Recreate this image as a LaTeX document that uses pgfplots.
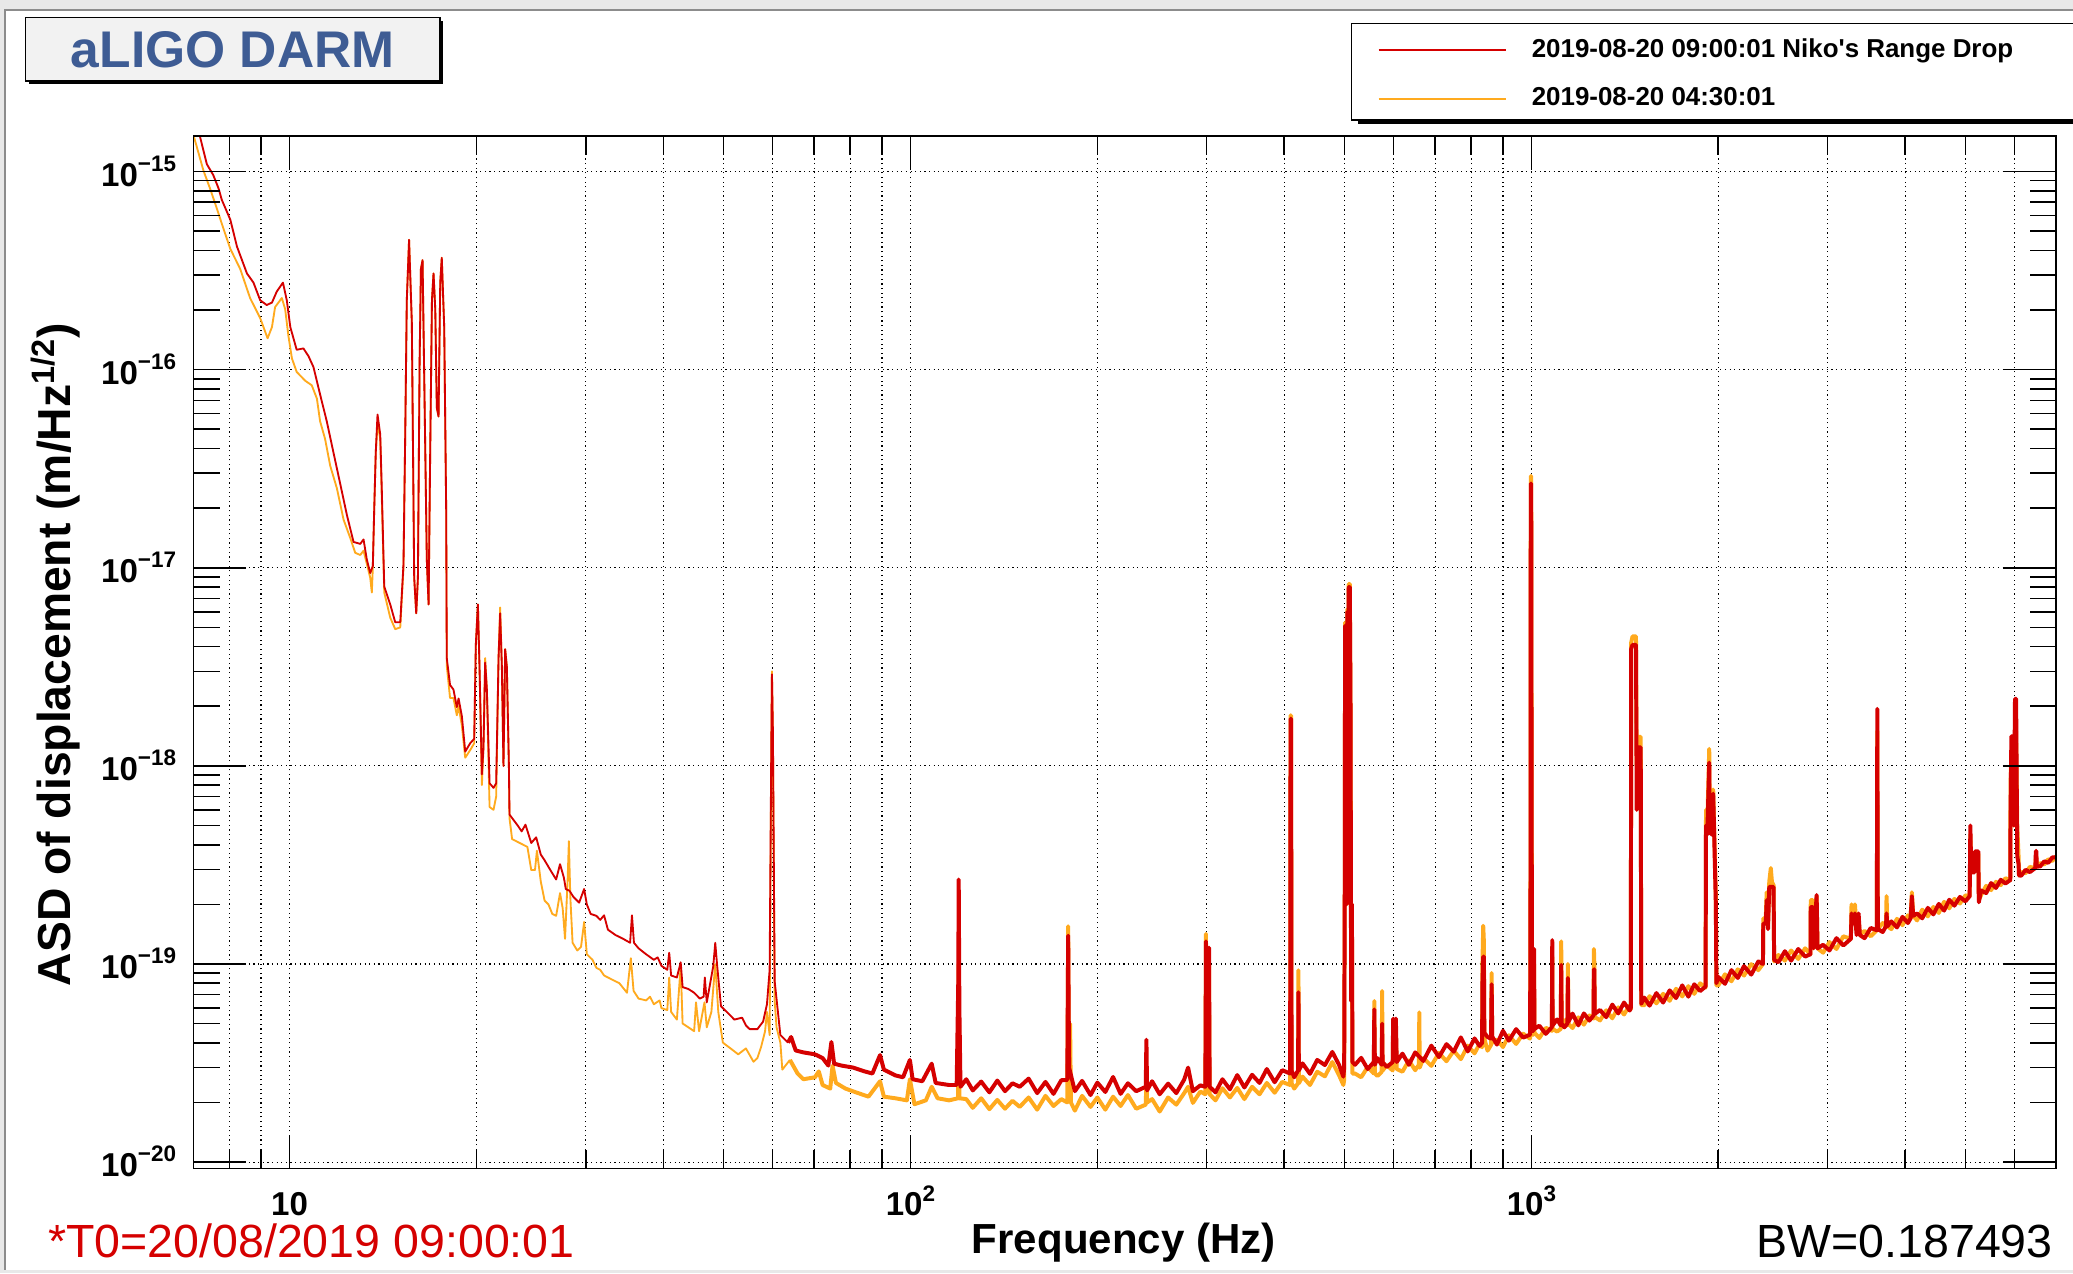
\documentclass[border=0pt]{standalone}
\usepackage{fontspec}
\setmainfont{Liberation Sans}
\usepackage{pgfplots}
\pgfplotsset{compat=1.18}
\definecolor{rootred}{RGB}{213,0,0}
\definecolor{rootorange}{RGB}{255,170,30}
\definecolor{titleblue}{RGB}{62,92,148}
\definecolor{canvasgrey}{RGB}{232,232,232}
\newcommand{\tl}[1]{10\raisebox{5.6pt}{\fontsize{8.5}{9}\selectfont #1}}
\pgfplotsset{
  every axis/.append style={
    at={(73.1pt,39.65pt)}, anchor=south west, scale only axis,
    width=704.5pt, height=390.4pt,
    xmin=7, xmax=7000, ymin=9.3e-21, ymax=1.51e-15,
    axis line style={line width=0.6pt, black},
    tick style={line width=0.6pt, black},
  }
}
\begin{document}
\begin{tikzpicture}[x=1pt,y=1pt]
% canvas
\fill[canvasgrey] (0,0) rectangle (784,481.5);
\fill[white] (2,1.2) rectangle (784,477.75);
\draw[black!45, line width=0.6pt] (2,1.2) -- (2,477.75) -- (784,477.75);
% title box
\fill[black] (10.8,449.6) rectangle (167.5,473.7);
\filldraw[fill=black!5, draw=black, line width=0.6pt] (9.6,450.85) rectangle (166.3,474.95);
\node[anchor=base, text=titleblue, inner sep=0pt, font=\fontsize{19.5}{22}\selectfont\bfseries] at (88,455.9) {aLIGO DARM};
% legend frame
\fill[black] (513.5,434.6) rectangle (790,471);
\filldraw[fill=white, draw=black, line width=0.5pt] (511,436.1) rectangle (788,472.7);

% main axis: data and grid
\begin{loglogaxis}[
  xtick={10,100,1000},
  minor xtick={8,9,20,30,40,50,60,70,80,90,200,300,400,500,600,700,800,900,2000,3000,4000,5000,6000},
  ytick={1e-20,1e-19,1e-18,1e-17,1e-16,1e-15},
  minor ytick={2e-20,3e-20,4e-20,5e-20,6e-20,7e-20,8e-20,9e-20,2e-19,3e-19,4e-19,5e-19,6e-19,7e-19,8e-19,9e-19,2e-18,3e-18,4e-18,5e-18,6e-18,7e-18,8e-18,9e-18,2e-17,3e-17,4e-17,5e-17,6e-17,7e-17,8e-17,9e-17,2e-16,3e-16,4e-16,5e-16,6e-16,7e-16,8e-16,9e-16},
  major tick length=0pt, minor tick length=0pt,
  xticklabels={}, yticklabels={},
  xmajorgrids=true, xminorgrids=true, ymajorgrids=true, yminorgrids=false,
  major grid style={black, line width=0.45pt, dash pattern=on 0.45pt off 1.3pt},
  minor grid style={black, line width=0.45pt, dash pattern=on 0.45pt off 1.3pt},
  reverse legend,
  legend style={at={(axis description cs:0.6358,1.0997)}, anchor=north west,
    draw=none, fill=none, inner sep=0pt, outer sep=0pt,
    font=\fontsize{9.8}{11}\selectfont\bfseries,
    row sep=6pt, column sep=7.5pt, cells={anchor=west}},
  legend image code/.code={\draw[#1, line width=0.8pt] (0pt,0pt) -- (48pt,0pt);},
]
% ---- 04:30:01 reference, low frequencies
\addplot[rootorange, line width=0.7pt, line join=round] coordinates {
(7.00,1.52e-15)(7.02,1.49e-15)(7.27,1.01e-15)(7.45,8.20e-16)(7.64,6.50e-16)(7.83,5.14e-16)(8.03,4.07e-16)(8.33,3.22e-16)(8.64,2.30e-16)(8.97,1.82e-16)(9.22,1.44e-16)(9.37,1.64e-16)(9.48,2.07e-16)(9.72,2.30e-16)(9.84,2.02e-16)(9.96,1.48e-16)(10.09,1.14e-16)(10.27,9.74e-17)(10.60,8.79e-17)(10.86,8.34e-17)(11.07,7.14e-17)(11.20,5.50e-17)(11.41,4.47e-17)(11.63,3.27e-17)(11.92,2.52e-17)(12.22,1.75e-17)(12.52,1.42e-17)(12.76,1.19e-17)(13.00,1.16e-17)(13.16,1.22e-17)(13.49,8.91e-18)(13.57,7.5e-18)(13.62,1.0e-17)(13.69,1.95e-17)(13.77,3.82e-17)(13.86,5.3e-17)(14.00,4.5e-17)(14.08,2.3e-17)(14.21,7.5e-18)(14.53,5.6e-18)(14.80,4.9e-18)(15.08,5.0e-18)(15.26,1.0e-17)(15.36,4.71e-17)(15.45,2.24e-16)(15.58,4.52e-16)(15.74,1.73e-16)(15.88,8.91e-18)(16.00,5.89e-18)(16.10,8.91e-18)(16.20,1.08e-16)(16.28,3.22e-16)(16.38,3.57e-16)(16.54,4.25e-17)(16.64,1.10e-17)(16.75,6.53e-18)(16.85,3.82e-17)(16.96,2.24e-16)(17.06,3.06e-16)(17.17,2.02e-16)(17.27,6.43e-17)(17.38,5.80e-17)(17.49,2.75e-16)(17.59,3.67e-16)(17.75,1.64e-16)(17.88,1.95e-17)(17.92,3.2e-18)(18.14,2.2e-18)(18.37,2.2e-18)(18.60,1.8e-18)(18.72,2.0e-18)(18.95,1.6e-18)(19.19,1.10e-18)(19.54,1.20e-18)(19.84,1.30e-18)(19.96,4.09e-18)(20.11,6.53e-18)(20.23,3.16e-18)(20.41,8.0e-19)(20.53,1.24e-18)(20.66,3.5e-18)(20.79,2.43e-18)(21.00,6.2e-19)(21.31,6.0e-19)(21.52,7.0e-19)(21.71,3.50e-18)(21.84,6.3e-18)(21.98,3.16e-18)(22.11,1.00e-18)(22.25,3.88e-18)(22.39,3.16e-18)(22.56,1.00e-18)(22.61,5.45e-19)(22.83,4.27e-19)(23.49,4.08e-19)(24.16,3.90e-19)(24.51,2.98e-19)(24.85,2.98e-19)(25.03,3.73e-19)(25.39,2.61e-19)(25.75,2.09e-19)(26.12,2.00e-19)(26.50,1.79e-19)(26.88,1.75e-19)(27.27,2.28e-19)(27.54,1.91e-19)(27.78,1.34e-19)(28.05,2.67e-19)(28.18,4.17e-19)(28.33,2.18e-19)(28.57,1.28e-19)(29.07,1.17e-19)(29.48,1.22e-19)(29.82,1.63e-19)(30.12,1.12e-19)(30.76,1.05e-19)(31.21,9.56e-20)(31.65,9.35e-20)(32.11,8.75e-20)(33.03,8.36e-20)(33.98,8.00e-20)(34.96,7.16e-20)(35.46,1.07e-19)(35.82,7.32e-20)(36.49,6.69e-20)(37.53,6.55e-20)(38.07,6.84e-20)(38.62,6.26e-20)(39.46,6.55e-20)(39.73,5.99e-20)(40.59,5.85e-20)(40.88,8.55e-20)(41.17,5.73e-20)(42.06,5.24e-20)(42.66,9.78e-20)(42.96,5.01e-20)(43.89,4.79e-20)(44.84,4.58e-20)(45.15,6.40e-20)(45.67,4.58e-20)(46.59,6.40e-20)(46.99,4.79e-20)(47.80,5.73e-20)(48.49,1.00e-19)(49.04,5.73e-20)(49.88,4.01e-20)(51.32,3.75e-20)(52.80,3.50e-20)(54.33,3.75e-20)(55.89,3.21e-20)(56.69,3.35e-20)(57.50,3.83e-20)(58.33,4.58e-20)(58.74,5.73e-20)(59.33,4.38e-20)(59.70,1.3e-18)(59.84,3.0e-18)(60.05,1.5e-18)(60.44,6.5e-20)(60.87,4.79e-20)(61.74,4.01e-20)(62.18,2.93e-20)(63.97,3.28e-20)
};
\addlegendentry{2019-08-20 04:30:01}
% ---- 04:30:01 reference, noisy high-frequency part
\addplot[rootorange, line width=1.5pt, line join=round, forget plot] coordinates {
(63.97,3.28e-20)(65.81,2.80e-20)(67.23,2.62e-20)(70.19,2.68e-20)(71.19,2.87e-20)(72.21,2.45e-20)(74.28,2.35e-20)(74.92,3.07e-20)(75.86,2.51e-20)(78.61,2.35e-20)(82.03,2.24e-20)(85.60,2.14e-20)(89.34,2.56e-20)(90.62,2.14e-20)(94.56,2.10e-20)(98.68,2.05e-20)(99.8,2.62e-20)(101.5,1.96e-20)(105.9,2.05e-20)(108.2,2.40e-20)(110.6,2.10e-20)(115.4,2.05e-20)(119.3,2.1e-20)(119.6,1.0e-19)(119.9,2.1e-20)(123,2.08e-20)(126,1.88e-20)(130,2.10e-20)(134,1.85e-20)(138,2.06e-20)(142,1.86e-20)(146,2.04e-20)(150,1.90e-20)(155,2.12e-20)(160,1.84e-20)(165,2.16e-20)(170,1.92e-20)(175,2.08e-20)(178.9,2.0e-20)(179.5,1.55e-19)(180.1,2.3e-20)(180.8,5.0e-20)(181.3,2.0e-20)(184,1.82e-20)(189,2.16e-20)(195,1.90e-20)(200,2.12e-20)(206,1.84e-20)(212,2.14e-20)(218,1.92e-20)(224,2.18e-20)(231,1.86e-20)(239.3,1.95e-20)(239.9,2.6e-20)(240.5,2.0e-20)(245,2.08e-20)(252,1.80e-20)(260,2.12e-20)(268,1.95e-20)(276,2.23e-20)(280,2.4e-20)(285,1.99e-20)(293,2.27e-20)(298.5,2.2e-20)(299.2,1.42e-19)(300.0,2.6e-20)(300.6,9.0e-20)(301.3,2.3e-20)(302.6,1.0e-19)(303.3,2.2e-20)(310,2.05e-20)(318,2.36e-20)(327,2.12e-20)(336,2.37e-20)(345,2.08e-20)(355,2.40e-20)(365,2.20e-20)(375,2.51e-20)(386,2.24e-20)(397,2.54e-20)(408.8,2.45e-20)(409.4,1.8e-18)(410.2,1.8e-18)(411.0,2.5e-20)(415,2.35e-20)(421.0,2.5e-20)(421.6,9.3e-20)(422.2,2.5e-20)(428,2.70e-20)(440,2.45e-20)(452,2.86e-20)(465,2.71e-20)(478,3.2e-20)(490,2.75e-20)(498,2.45e-20)(499.5,2.6e-20)(500.5,2.3e-19)(501.2,5.3e-18)(502.2,4.0e-19)(503.0,5.3e-18)(504.0,2.0e-19)(505.5,6.2e-18)(506.5,3.0e-19)(508.0,8.3e-18)(509.0,5.0e-19)(510.0,8.3e-18)(511.5,1.8e-18)(512.5,9e-20)(514.0,2.0e-19)(515.0,2.8e-20)(520,2.8e-20)(532,2.68e-20)(545,3.02e-20)(557.5,2.8e-20)(558.6,6.5e-20)(559.7,2.8e-20)(565,2.72e-20)(574,2.85e-20)(575,7.3e-20)(576,2.9e-20)(585,3.08e-20)(598,2.9e-20)(599,5.0e-20)(600.5,3.0e-20)(605,4.6e-20)(607,2.95e-20)(620,2.86e-20)(635,3.26e-20)(650,2.91e-20)(659,3.1e-20)(660,5.7e-20)(661,3.0e-20)(670,3.35e-20)(690,3.06e-20)(710,3.56e-20)(730,3.23e-20)(750,3.65e-20)(770,3.31e-20)(790,3.87e-20)(810,3.54e-20)(825,3.95e-20)(833,3.8e-20)(834,1.0e-19)(836.5,1.56e-19)(838.5,1.3e-19)(840,4.2e-20)(850,3.65e-20)(861,3.9e-20)(863,9.0e-20)(865,4.0e-20)(880,4.16e-20)(900,3.81e-20)(920,4.37e-20)(945,3.95e-20)(970,4.45e-20)(995,4.2e-20)(996.5,1.3e-19)(997.8,2.9e-17)(999.4,2.9e-17)(1000.8,1.2e-18)(1002,1.2e-19)(1004,4.4e-20)(1008.5,4.4e-20)(1010,1.0e-19)(1011.5,4.5e-20)(1030,4.23e-20)(1055,4.76e-20)(1079,4.6e-20)(1080.5,1.1e-19)(1082,4.7e-20)(1100,4.56e-20)(1115,4.7e-20)(1117,1.3e-19)(1119,4.8e-20)(1130,5.20e-20)(1143,4.9e-20)(1145,1.0e-19)(1147,5.0e-20)(1165,4.75e-20)(1190,5.38e-20)(1215,4.94e-20)(1240,5.50e-20)(1259,5.3e-20)(1261,1.19e-19)(1263,1.0e-19)(1265,5.4e-20)(1290,5.19e-20)(1320,5.84e-20)(1350,5.32e-20)(1380,6.04e-20)(1410,5.56e-20)(1440,6.19e-20)(1446,5.9e-20)(1448,4.2e-18)(1455,4.5e-18)(1474,4.5e-18)(1478,1.0e-18)(1482,1.4e-18)(1500,1.4e-18)(1503,6.2e-20)(1520,6.19e-20)(1550,6.88e-20)(1590,6.33e-20)(1630,7.07e-20)(1670,6.52e-20)(1710,7.50e-20)(1750,6.86e-20)(1790,7.73e-20)(1830,7.07e-20)(1870,7.99e-20)(1908,7.6e-20)(1911,6e-19)(1920,5e-19)(1934,1.22e-18)(1938,5.5e-19)(1950,4.8e-19)(1963,7.6e-19)(1970,4.8e-19)(1982,2.2e-19)(1986,7.8e-20)(2000,7.79e-20)(2050,8.87e-20)(2100,8.18e-20)(2150,9.40e-20)(2200,8.74e-20)(2260,9.98e-20)(2320,9.31e-20)(2360,1.0e-19)(2363,1.7e-19)(2385,1.7e-19)(2393,2.3e-19)(2405,1.6e-19)(2416,2.6e-19)(2430,3.05e-19)(2440,2.6e-19)(2455,2.5e-19)(2460,1.03e-19)(2500,1.11e-19)(2560,1.04e-19)(2620,1.17e-19)(2690,1.06e-19)(2760,1.20e-19)(2815,1.12e-19)(2818,2.1e-19)(2840,2.1e-19)(2848,1.2e-19)(2880,2.2e-19)(2890,1.2e-19)(2950,1.14e-19)(3020,1.29e-19)(3100,1.19e-19)(3180,1.38e-19)(3270,1.34e-19)(3278,2.0e-19)(3300,1.7e-19)(3320,2.0e-19)(3340,1.5e-19)(3365,1.7e-19)(3381,1.4e-19)(3440,1.47e-19)(3520,1.38e-19)(3600,1.48e-19)(3607,1.5e-18)(3614,1.5e-19)(3680,1.61e-19)(3725,1.55e-19)(3733,2.2e-19)(3745,1.55e-19)(3800,1.50e-19)(3880,1.69e-19)(3960,1.57e-19)(4040,1.76e-19)(4080,1.7e-19)(4100,2.3e-19)(4120,1.75e-19)(4180,1.66e-19)(4260,1.88e-19)(4350,1.74e-19)(4440,1.94e-19)(4530,1.81e-19)(4620,2.06e-19)(4710,1.91e-19)(4800,2.13e-19)(4900,2.02e-19)(5000,2.22e-19)(5080,2.2e-19)(5093,4.5e-19)(5110,3.0e-19)(5170,3.0e-19)(5180,3.6e-19)(5245,3.6e-19)(5255,2.1e-19)(5300,2.23e-19)(5400,2.48e-19)(5500,2.36e-19)(5600,2.60e-19)(5700,2.50e-19)(5800,2.71e-19)(5905,2.65e-19)(5912,8e-19)(5930,1.2e-18)(5975,1.2e-18)(5985,5e-19)(6010,1.5e-18)(6035,1.5e-18)(6060,5.0e-19)(6090,3.5e-19)(6100,2.8e-19)(6150,2.91e-19)(6250,2.87e-19)(6350,3.09e-19)(6480,3.05e-19)(6493,3.5e-19)(6505,3.5e-19)(6515,3.1e-19)(6600,3.23e-19)(6700,3.18e-19)(6800,3.38e-19)(6900,3.31e-19)(7000,3.5e-19)
};
% ---- 09:00:01 range drop, low frequencies
\addplot[rootred, line width=0.7pt, line join=round] coordinates {
(7.00,2.0e-15)(7.18,1.49e-15)(7.36,1.09e-15)(7.54,9.59e-16)(7.69,8.20e-16)(7.78,7.21e-16)(8.03,5.71e-16)(8.23,4.18e-16)(8.54,3.06e-16)(8.75,2.75e-16)(8.97,2.24e-16)(9.19,2.12e-16)(9.37,2.18e-16)(9.54,2.48e-16)(9.76,2.75e-16)(9.90,2.24e-16)(10.03,1.64e-16)(10.27,1.26e-16)(10.53,1.28e-16)(10.73,1.17e-16)(10.93,1.03e-16)(11.20,7.51e-17)(11.48,5.50e-17)(11.77,3.82e-17)(12.07,2.65e-17)(12.37,1.85e-17)(12.68,1.35e-17)(13.00,1.32e-17)(13.16,1.39e-17)(13.32,1.10e-17)(13.49,9.40e-18)(13.62,1.02e-17)(13.69,1.95e-17)(13.77,3.82e-17)(13.86,5.94e-17)(14.00,4.71e-17)(14.08,2.52e-17)(14.21,8.04e-18)(14.53,6.53e-18)(14.80,5.31e-18)(15.08,5.31e-18)(15.26,1.04e-17)(15.36,4.71e-17)(15.45,2.24e-16)(15.58,4.52e-16)(15.74,1.73e-16)(15.88,8.91e-18)(16.00,5.89e-18)(16.10,8.91e-18)(16.20,1.08e-16)(16.28,3.22e-16)(16.38,3.57e-16)(16.54,4.25e-17)(16.64,1.10e-17)(16.75,6.53e-18)(16.85,3.82e-17)(16.96,2.24e-16)(17.06,3.06e-16)(17.17,2.02e-16)(17.27,6.43e-17)(17.38,5.80e-17)(17.49,2.75e-16)(17.59,3.67e-16)(17.75,1.64e-16)(17.88,1.95e-17)(17.92,3.50e-18)(18.14,2.56e-18)(18.37,2.43e-18)(18.60,1.98e-18)(18.72,2.19e-18)(18.95,1.78e-18)(19.19,1.18e-18)(19.54,1.30e-18)(19.84,1.37e-18)(19.96,4.09e-18)(20.11,6.53e-18)(20.23,3.16e-18)(20.41,9.06e-19)(20.53,1.24e-18)(20.66,3.32e-18)(20.79,2.43e-18)(21.00,8.17e-19)(21.31,7.75e-19)(21.52,8.17e-19)(21.71,3.50e-18)(21.84,5.89e-18)(21.98,3.16e-18)(22.11,1.00e-18)(22.25,3.88e-18)(22.39,3.16e-18)(22.56,1.00e-18)(22.61,5.68e-19)(23.32,4.99e-19)(23.65,4.67e-19)(23.99,5.05e-19)(24.51,4.08e-19)(24.96,4.36e-19)(25.39,3.57e-19)(25.75,3.34e-19)(26.31,2.98e-19)(26.88,2.67e-19)(27.27,3.19e-19)(27.66,2.73e-19)(27.86,2.39e-19)(28.25,2.34e-19)(28.66,2.18e-19)(29.27,2.04e-19)(29.82,2.39e-19)(30.12,2.00e-19)(30.55,1.79e-19)(31.21,1.75e-19)(31.65,1.67e-19)(32.11,1.76e-19)(32.57,1.49e-19)(33.50,1.40e-19)(34.46,1.34e-19)(35.36,1.28e-19)(35.61,1.76e-19)(35.87,1.28e-19)(36.49,1.20e-19)(37.53,1.12e-19)(38.62,1.05e-19)(39.17,1.08e-19)(39.73,9.78e-20)(40.59,9.35e-20)(40.88,1.14e-19)(41.17,8.75e-20)(42.06,8.55e-20)(42.66,1.02e-19)(42.96,7.65e-20)(43.89,7.48e-20)(44.84,7.16e-20)(45.80,6.69e-20)(46.45,6.84e-20)(46.65,8.55e-20)(46.99,6.40e-20)(48.14,9.78e-20)(48.49,1.28e-19)(48.84,9.78e-20)(49.53,6.12e-20)(50.60,5.73e-20)(52.06,5.24e-20)(53.56,5.36e-20)(54.33,4.90e-20)(55.10,4.69e-20)(56.69,4.69e-20)(57.91,5.12e-20)(58.74,6.26e-20)(59.33,9.35e-20)(59.70,1.3e-18)(59.84,2.90e-18)(60.05,1.5e-18)(60.44,8.2e-20)(61.04,6.12e-20)(61.74,4.38e-20)(63.52,4.01e-20)
};
\addlegendentry{2019-08-20 09:00:01 Niko\textquotesingle s Range Drop}
% ---- 09:00:01 range drop, noisy high-frequency part
\addplot[rootred, line width=1.5pt, line join=round, forget plot] coordinates {
(63.52,4.01e-20)(64.24,4.28e-20)(65.35,3.66e-20)(67.23,3.58e-20)(70.19,3.50e-20)(72.21,3.35e-20)(73.76,3.07e-20)(74.60,4.04e-20)(75.35,3.14e-20)(77.50,3.07e-20)(80.86,3.00e-20)(84.39,2.87e-20)(86.84,2.80e-20)(89.34,3.47e-20)(90.62,2.93e-20)(94.56,2.74e-20)(97.30,2.68e-20)(99.8,3.28e-20)(100.8,2.62e-20)(104.5,2.56e-20)(108.2,3.14e-20)(109.8,2.51e-20)(115.4,2.45e-20)(118.7,2.45e-20)(119.4,8e-20)(119.6,2.67e-19)(119.9,6e-20)(120.4,2.40e-20)(123,2.62e-20)(126,2.30e-20)(130,2.55e-20)(134,2.25e-20)(138,2.58e-20)(142,2.28e-20)(146,2.50e-20)(150,2.40e-20)(155,2.64e-20)(160,2.23e-20)(165,2.54e-20)(170,2.21e-20)(175,2.59e-20)(178.9,2.6e-20)(179.5,1.39e-19)(180.1,3.0e-20)(184,2.28e-20)(189,2.57e-20)(195,2.18e-20)(200,2.52e-20)(206,2.26e-20)(212,2.69e-20)(218,2.21e-20)(224,2.50e-20)(231,2.28e-20)(239.3,2.4e-20)(239.9,4.15e-20)(240.5,2.3e-20)(245,2.56e-20)(252,2.20e-20)(260,2.49e-20)(268,2.23e-20)(276,2.61e-20)(280,3.0e-20)(285,2.28e-20)(293,2.44e-20)(298.5,2.4e-20)(299.2,1.30e-19)(300.0,3.0e-20)(302.6,1.21e-19)(303.3,2.4e-20)(310,2.25e-20)(318,2.62e-20)(327,2.33e-20)(336,2.75e-20)(345,2.38e-20)(355,2.76e-20)(365,2.51e-20)(375,2.95e-20)(386,2.53e-20)(397,2.91e-20)(408.8,2.8e-20)(409.4,1.73e-18)(410.2,1.73e-18)(411.0,2.9e-20)(415,2.68e-20)(421.0,2.9e-20)(421.6,7.2e-20)(422.2,2.9e-20)(428,3.15e-20)(440,2.79e-20)(452,3.28e-20)(465,3.09e-20)(478,3.60e-20)(490,3.1e-20)(498,2.7e-20)(499.5,3.0e-20)(500.5,2.3e-19)(501.2,5.1e-18)(502.2,4.0e-19)(503.0,5.1e-18)(504.0,2.0e-19)(505.5,6.0e-18)(506.5,3.0e-19)(508.0,8.0e-18)(509.0,5.0e-19)(510.0,8.0e-18)(511.5,1.8e-18)(512.5,6.5e-20)(514.0,2.0e-19)(515.0,3.2e-20)(520,3.10e-20)(532,3.36e-20)(545,2.95e-20)(557.5,3.2e-20)(558.6,5.9e-20)(559.7,3.1e-20)(565,3.35e-20)(574,3.1e-20)(575,5.0e-20)(576,3.2e-20)(585,3.02e-20)(598,3.2e-20)(599,5.3e-20)(600.5,3.3e-20)(605,5.3e-20)(607,3.2e-20)(620,3.53e-20)(635,3.10e-20)(650,3.58e-20)(670,3.24e-20)(690,3.87e-20)(710,3.39e-20)(730,3.94e-20)(750,3.61e-20)(770,4.26e-20)(790,3.62e-20)(810,4.21e-20)(825,3.86e-20)(833,4.0e-20)(834,8e-20)(836.5,1.09e-19)(838.5,1.09e-19)(840,4.5e-20)(850,4.28e-20)(861,4.2e-20)(863,7.9e-20)(865,4.3e-20)(880,3.92e-20)(900,4.60e-20)(920,4.10e-20)(945,4.69e-20)(970,4.25e-20)(995,4.4e-20)(996.5,1.2e-19)(997.8,2.66e-17)(999.4,2.66e-17)(1000.8,1.0e-18)(1002,1.1e-19)(1004,4.6e-20)(1008.5,4.6e-20)(1010,1.19e-19)(1011.5,4.7e-20)(1030,4.88e-20)(1055,4.44e-20)(1079,4.8e-20)(1080.5,1.32e-19)(1082,4.9e-20)(1100,5.25e-20)(1115,4.9e-20)(1117,9.9e-20)(1119,5.0e-20)(1130,4.79e-20)(1143,5.0e-20)(1145,8.5e-20)(1147,5.1e-20)(1165,5.62e-20)(1190,4.90e-20)(1215,5.63e-20)(1240,5.18e-20)(1259,5.5e-20)(1261,9.4e-20)(1263,9.4e-20)(1265,5.6e-20)(1290,5.86e-20)(1320,5.39e-20)(1350,6.24e-20)(1380,5.63e-20)(1410,6.39e-20)(1440,5.82e-20)(1446,6.0e-20)(1448,3.9e-18)(1455,4.08e-18)(1474,4.08e-18)(1478,6e-19)(1482,1.24e-18)(1500,1.24e-18)(1503,6.3e-20)(1520,6.77e-20)(1550,6.16e-20)(1590,7.13e-20)(1630,6.39e-20)(1670,7.36e-20)(1710,6.73e-20)(1750,7.80e-20)(1790,6.84e-20)(1830,7.90e-20)(1870,7.30e-20)(1908,7.7e-20)(1911,5e-19)(1920,4.5e-19)(1934,1.04e-18)(1938,5e-19)(1950,4.5e-19)(1963,7.24e-19)(1970,4.5e-19)(1982,2e-19)(1986,8.0e-20)(2000,8.61e-20)(2050,7.94e-20)(2100,9.31e-20)(2150,8.50e-20)(2200,9.75e-20)(2260,8.84e-20)(2320,1.03e-19)(2360,1.0e-19)(2363,1.6e-19)(2385,1.6e-19)(2393,2.1e-19)(2405,1.5e-19)(2416,2.45e-19)(2440,2.45e-19)(2455,2.45e-19)(2460,1.05e-19)(2500,1.02e-19)(2560,1.16e-19)(2620,1.04e-19)(2690,1.19e-19)(2760,1.09e-19)(2815,1.12e-19)(2818,1.94e-19)(2840,1.94e-19)(2848,1.2e-19)(2880,2.23e-19)(2890,1.2e-19)(2950,1.25e-19)(3020,1.17e-19)(3100,1.35e-19)(3180,1.24e-19)(3270,1.34e-19)(3278,1.8e-19)(3300,1.6e-19)(3320,1.8e-19)(3340,1.4e-19)(3365,1.8e-19)(3381,1.4e-19)(3440,1.35e-19)(3520,1.52e-19)(3600,1.48e-19)(3607,1.94e-18)(3614,1.5e-19)(3680,1.45e-19)(3725,1.55e-19)(3733,1.8e-19)(3745,1.55e-19)(3800,1.64e-19)(3880,1.53e-19)(3960,1.73e-19)(4040,1.61e-19)(4080,1.7e-19)(4100,2.2e-19)(4120,1.75e-19)(4180,1.80e-19)(4260,1.70e-19)(4350,1.92e-19)(4440,1.78e-19)(4530,2.01e-19)(4620,1.86e-19)(4710,2.11e-19)(4800,1.97e-19)(4900,2.18e-19)(5000,2.07e-19)(5080,2.2e-19)(5093,5.0e-19)(5110,2.9e-19)(5170,2.9e-19)(5180,3.7e-19)(5245,3.7e-19)(5255,2.05e-19)(5300,2.35e-19)(5400,2.28e-19)(5500,2.56e-19)(5600,2.42e-19)(5700,2.66e-19)(5800,2.55e-19)(5905,2.65e-19)(5912,6e-19)(5930,1.41e-18)(5975,1.41e-18)(5985,5e-19)(6010,2.18e-18)(6035,2.18e-18)(6060,3.5e-19)(6090,3.2e-19)(6100,2.8e-19)(6150,2.79e-19)(6250,2.99e-19)(6350,2.91e-19)(6480,3.05e-19)(6493,3.72e-19)(6505,3.72e-19)(6515,3.1e-19)(6600,3.11e-19)(6700,3.30e-19)(6800,3.24e-19)(6900,3.45e-19)(7000,3.45e-19)
};
\end{loglogaxis}

% x ticks and labels
\begin{loglogaxis}[
  xtick={10,100,1000},
  minor xtick={8,9,20,30,40,50,60,70,80,90,200,300,400,500,600,700,800,900,2000,3000,4000,5000,6000},
  ymajorticks=false, yminorticks=false,
  major tick length=12.7pt, minor tick length=7pt,
  xticklabels={10,\tl{2},\tl{3}},
  xticklabel style={font=\fontsize{12.5}{14}\selectfont\bfseries, anchor=base, inner sep=0pt, yshift=-18pt},
]
\end{loglogaxis}

% y ticks and labels
\begin{loglogaxis}[
  xmajorticks=false, xminorticks=false,
  ytick={1e-20,1e-19,1e-18,1e-17,1e-16,1e-15},
  minor ytick={2e-20,3e-20,4e-20,5e-20,6e-20,7e-20,8e-20,9e-20,2e-19,3e-19,4e-19,5e-19,6e-19,7e-19,8e-19,9e-19,2e-18,3e-18,4e-18,5e-18,6e-18,7e-18,8e-18,9e-18,2e-17,3e-17,4e-17,5e-17,6e-17,7e-17,8e-17,9e-17,2e-16,3e-16,4e-16,5e-16,6e-16,7e-16,8e-16,9e-16},
  major tick length=20pt, minor tick length=10pt,
  yticklabels={\tl{−20},\tl{−19},\tl{−18},\tl{−17},\tl{−16},\tl{−15}},
  yticklabel style={font=\fontsize{12.5}{14}\selectfont\bfseries, anchor=base east, inner sep=0pt, xshift=-6.3pt, yshift=-5.5pt},
]
\end{loglogaxis}

% axis titles and footer texts
\node[rotate=90, anchor=base, inner sep=0pt, font=\fontsize{17.5}{20}\selectfont\bfseries] at (26.7,234) {ASD of displacement (m/Hz\textsuperscript{1/2})};
\node[anchor=base, inner sep=0pt, font=\fontsize{15.9}{18}\selectfont\bfseries] at (425,7.5) {Frequency (Hz)};
\node[anchor=base west, inner sep=0pt, text=rootred, font=\fontsize{17.6}{19}\selectfont] at (18,5.9) {*T0=20/08/2019 09:00:01};
\node[anchor=base east, inner sep=0pt, font=\fontsize{17.6}{19}\selectfont] at (776.5,5.9) {BW=0.187493};

\pgfresetboundingbox
\path[use as bounding box] (0,0) rectangle (784,481.5);
\end{tikzpicture}
\end{document}
